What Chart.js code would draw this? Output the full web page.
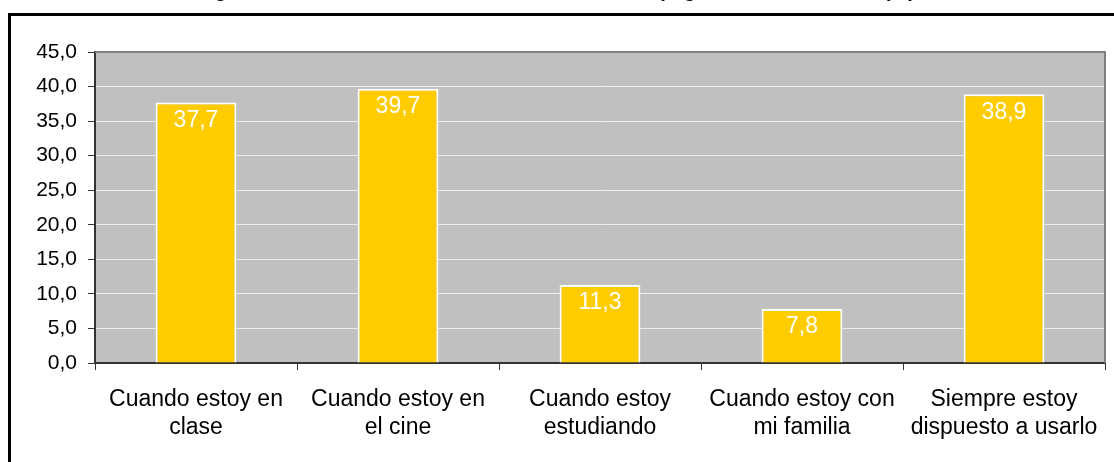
<!DOCTYPE html>
<html>
<head>
<meta charset="utf-8">
<script src="https://cdn.jsdelivr.net/npm/chart.js@4"></script>
<style>
  html, body { margin: 0; padding: 0; background: #fff; overflow: hidden; }
  body { width: 1114px; height: 462px; position: relative; }
  #wrap { position: absolute; left: 0; top: -30px; width: 1114px; height: 492px; }
  #frame {
    position: absolute; left: 8px; top: 13px; width: 1200px; height: 600px;
    border: 3px solid #000; pointer-events: none;
  }
</style>
</head>
<body>
<div id="wrap"><canvas id="chart"></canvas></div>
<div id="frame"></div>
<script>
// Chart data
const titleText = "Lugares donde el alumno estaría de acuerdo en apagar el teléfono móvil (%)";
const categories = [
  ["Cuando estoy en", "clase"],
  ["Cuando estoy en", "el cine"],
  ["Cuando estoy", "estudiando"],
  ["Cuando estoy con", "mi familia"],
  ["Siempre estoy", "dispuesto a usarlo"],
];
const values = [37.7, 39.7, 11.3, 7.8, 38.9];
const yMin = 0;
const yMax = 45;
const yStep = 5;

const FONT = "'Liberation Sans', Arial, sans-serif";

// format numbers with a decimal comma
function fmt(v) {
  return v.toFixed(1).replace(".", ",");
}

// gray plot background + darker frame on top/right
const plotArea = {
  id: "plotArea",
  beforeDraw(chart) {
    const { ctx, chartArea: a } = chart;
    ctx.save();
    ctx.fillStyle = "#c0c0c0";
    ctx.fillRect(a.left, a.top, a.right - a.left, a.bottom - a.top);
    ctx.restore();
  },
  beforeDatasetsDraw(chart) {
    const { ctx, chartArea: a } = chart;
    ctx.save();
    ctx.strokeStyle = "#808080";
    ctx.lineWidth = 2;
    ctx.beginPath();
    ctx.moveTo(a.left, a.top);
    ctx.lineTo(a.right, a.top);
    ctx.lineTo(a.right, a.bottom);
    ctx.stroke();
    ctx.restore();
  },
};

// value labels inside the top of each bar
const barLabels = {
  id: "barLabels",
  afterDatasetsDraw(chart) {
    const ctx = chart.ctx;
    const meta = chart.getDatasetMeta(0);
    ctx.save();
    ctx.fillStyle = "#ffffff";
    ctx.font = "23px " + FONT;
    ctx.textAlign = "center";
    ctx.textBaseline = "middle";
    meta.data.forEach((bar, i) => {
      ctx.fillText(fmt(values[i]), bar.x, bar.y + 18);
    });
    ctx.restore();
  },
};

const ctx = document.getElementById("chart").getContext("2d");
new Chart(ctx, {
  type: "bar",
  data: {
    labels: categories,
    datasets: [
      {
        data: values,
        backgroundColor: "#ffcc00",
        borderColor: "#ffffff",
        borderWidth: 2,
        borderSkipped: "start",
        categoryPercentage: 1,
        barPercentage: 0.4,
      },
    ],
  },
  options: {
    responsive: true,
    maintainAspectRatio: false,
    animation: false,
    layout: { padding: { left: 0, right: 9, top: 0, bottom: 0 } },
    plugins: {
      legend: { display: false },
      tooltip: { enabled: false },
      title: {
        display: true,
        text: titleText,
        color: "#000",
        font: { family: FONT, size: 20, weight: "bold", lineHeight: 1.2 },
        padding: { top: 9, bottom: 49 },
      },
    },
    scales: {
      x: {
        offset: true,
        grid: {
          display: true,
          offset: true,
          drawOnChartArea: false,
          tickLength: 7,
          tickColor: "#333",
        },
        border: { color: "#333", width: 2 },
        ticks: {
          color: "#000",
          padding: 15,
          maxRotation: 0,
          autoSkip: false,
          font: { family: FONT, size: 23, lineHeight: 1.24 },
        },
        afterFit(scale) {
          scale.height = 99;
        },
      },
      y: {
        min: yMin,
        max: yMax,
        ticks: {
          stepSize: yStep,
          color: "#000",
          padding: 11,
          font: { family: FONT, size: 21 },
          callback: (v) => fmt(v),
        },
        grid: {
          color: "#ececec",
          lineWidth: 1,
          tickLength: 7,
          tickColor: "#333",
        },
        border: { color: "#333", width: 2 },
        afterFit(scale) {
          scale.width = 95;
        },
      },
    },
  },
  plugins: [plotArea, barLabels],
});
</script>
</body>
</html>
